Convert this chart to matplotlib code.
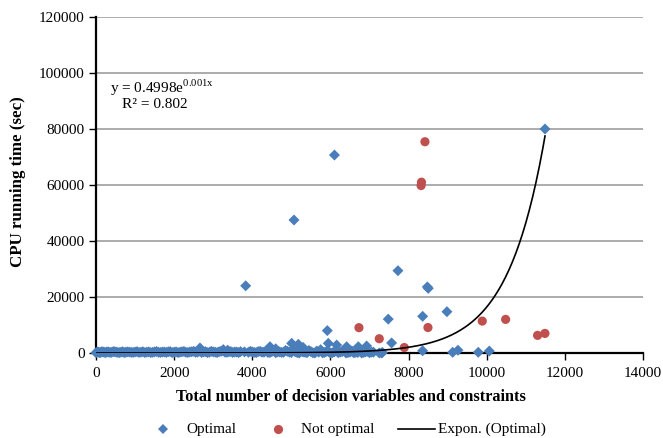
import numpy as np
import matplotlib
matplotlib.use("Agg")
import matplotlib.pyplot as plt
from matplotlib.lines import Line2D

plt.rcParams['font.family'] = ['Liberation Serif', 'DejaVu Serif']
plt.rcParams['mathtext.fontset'] = 'custom'
plt.rcParams['mathtext.rm'] = 'Liberation Serif'

# ---- data ----
opt_x = [0, 60, 120, 180, 250, 320, 400, 480, 560, 640, 720, 800, 900, 1000,
         1100, 1200, 1300, 1400, 1500, 1600, 1700, 1800, 1900, 2000, 2100,
         2200, 2300, 2400, 2500, 2600, 2700, 2800, 2900, 3000, 3100, 3200,
         3300, 3400, 3500, 3600, 3700, 3900, 4000, 4100, 4200, 4300, 4400,
         4500, 4600, 4700, 4800, 4900, 5000, 5100, 5200, 5300, 5400, 5500,
         5600, 5700, 5800, 5900, 6000, 6100, 6200, 6300, 6400, 6500, 6600,
         6700, 6800, 6900, 7000, 7100, 7250, 7330,
         30, 90, 150, 210, 280, 360, 440, 520, 600, 680, 760, 850, 950, 1050,
         1150, 1250, 1350, 1450, 1550, 1650, 1750, 1850, 1950, 2050, 2150,
         2250, 2350, 2450, 2550, 2650, 2750, 2850, 2950, 3050, 3150, 3250,
         3350, 3450, 3550, 3650, 3800, 3950, 4050, 4150, 4250, 4350, 4450,
         4550, 4650, 4750, 4850, 4950, 5050, 5150, 5250, 5350, 5450, 5550,
         5650, 5750, 5850, 5950, 6050, 6150, 6250, 6350, 6450, 6550, 6650,
         6750, 6850, 6950, 7050,
         2661, 3258, 3370, 4453, 4600, 5008, 5178, 5300, 5945, 6160, 6415,
         6713, 6927,
         3831, 5067, 6103, 5920, 7480, 7566, 7728, 8360, 8360, 8480, 8504,
         8982, 9128, 9264, 9784, 10066, 11492, 7310]
opt_y = [100, 300, 200, 400, 150, 350, 250, 450, 200, 300, 150, 400, 250, 350,
         200, 450, 300, 150, 400, 250, 350, 200, 500, 300, 150, 450, 250, 350,
         600, 300, 200, 500, 250, 400, 150, 600, 300, 450, 200, 350, 500, 250,
         400, 150, 600, 300, 200, 500, 100, 400, 250, 600, 150, 450, 0, 350,
         100, 500, 0, 300, 50, 600, 0, 400, 100, 500, 0, 300, 50, 200, 0, 400,
         100, 300, 0, 200,
         350, 150, 450, 250, 400, 200, 500, 300, 150, 450, 250, 350, 200, 500,
         300, 150, 400, 250, 550, 200, 350, 450, 150, 400, 300, 550, 200, 450,
         250, 700, 350, 150, 600, 300, 450, 800, 250, 500, 350, 150, 400, 600,
         200, 500, 300, 700, 150, 800, 400, 200, 900, 300, 1100, 150, 600, 250,
         900, 100, 700, 1200, 200, 500, 100, 800, 300, 1000, 150, 700, 250,
         1100, 200, 600, 300,
         1800, 1200, 1000, 2250, 1500, 3450, 3100, 2000, 3450, 2850, 2250,
         2250, 2500,
         24000, 47500, 70700, 8000, 12100, 3600, 29400, 13100, 800, 23600,
         23100, 14750, 250, 1000, 250, 700, 80000, 0]

nonopt_x = [6730, 7250, 7890, 8320, 8330, 8419, 8496, 9886, 10484, 11302, 11490]
nonopt_y = [9050, 5100, 1950, 59800, 61000, 75450, 9100, 11400, 12000, 6300, 7000]

fit_a = 0.4998
fit_b = 0.00104

xticks = [0, 2000, 4000, 6000, 8000, 10000, 12000, 14000]
yticks = [0, 20000, 40000, 60000, 80000, 100000, 120000]
legend_labels = ['Optimal', 'Not optimal', 'Expon. (Optimal)']

blue = '#4a7ebb'
red = '#c0504d'

W, H = 663, 438
fig = plt.figure(figsize=(W/100, H/100), dpi=100)
ax = fig.add_axes([96/W, 1-353/H, (643-96)/W, (353-17)/H])

ax.set_xlim(0, 14000)
ax.set_ylim(0, 120000)
ax.set_xticks(xticks)
ax.set_yticks(yticks)
ax.yaxis.grid(True, color='#a6a6a6', linewidth=1.3)
ax.set_axisbelow(True)

for s in ['top', 'right']:
    ax.spines[s].set_visible(False)
for s in ['left', 'bottom']:
    ax.spines[s].set_linewidth(1.6)
    ax.spines[s].set_color('black')
ax.tick_params(axis='both', direction='out', length=5, width=1, labelsize=11,
               colors='black')
ax.tick_params(axis='x', pad=5)
ax.tick_params(axis='y', pad=3)

ax.scatter(opt_x, opt_y, marker='D', s=5.6**2, color=blue, edgecolors='none',
           zorder=3, clip_on=False)
ax.scatter(nonopt_x, nonopt_y, marker='o', s=6.6**2, color=red, edgecolors='none',
           zorder=3, clip_on=False)

xf = np.linspace(0, max(opt_x), 400)
ax.plot(xf, fit_a*np.exp(fit_b*xf), color='black', linewidth=1.2, zorder=4)

ax.set_xlabel('Total number of decision variables and constraints',
              fontsize=11.7, fontweight='bold')
ax.xaxis.set_label_coords((351-96)/547, -(397-353)/336)
ax.xaxis.label.set_va('center')
ax.set_ylabel('CPU running time (sec)', fontsize=12.2, fontweight='bold')
ax.yaxis.set_label_coords(-(96-18)/547, (353-182)/336)
ax.yaxis.label.set_va('center')

fig.text(110/W, 1-88/H, r'y = 0.4998e$^{\mathrm{0.001x}}$',
         fontsize=11, va='center', ha='left')
fig.text(122/W, 1-105/H, 'R² = 0.802',
         fontsize=11, va='center', ha='left')

# legend (manual, below the plot)
ly = 1-429/H
fig.add_artist(Line2D([163/W], [ly], marker='D', linestyle='none', color=blue,
                      markersize=5.6, markeredgewidth=0))
fig.add_artist(Line2D([278/W], [ly], marker='o', linestyle='none', color=red,
                      markersize=6.6, markeredgewidth=0))
fig.add_artist(Line2D([398/W, 435/W], [ly, ly], color='black', linewidth=1.2))
for xpx, lab in zip([186, 301, 438], legend_labels):
    fig.text(xpx/W, ly, lab, fontsize=11, va='center', ha='left')

fig.savefig('out.png', dpi=100)
